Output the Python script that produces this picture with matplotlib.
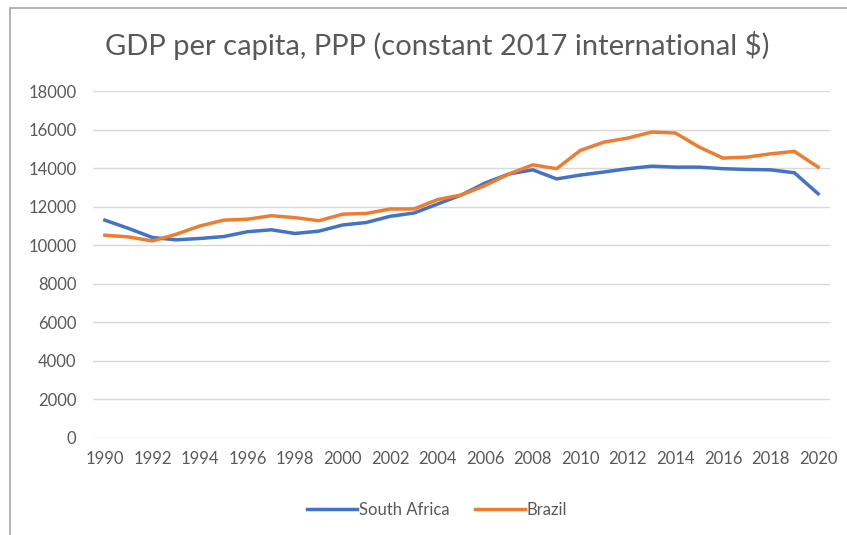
import numpy as np
import matplotlib.pyplot as plt
from matplotlib.patches import Rectangle

years = list(range(1990, 2021))
south_africa = [11300, 10870, 10400, 10280, 10350, 10450, 10700, 10800, 10610, 10730,
                11050, 11180, 11500, 11670, 12140, 12610, 13230, 13700, 13910, 13440,
                13640, 13800, 13970, 14100, 14050, 14050, 13970, 13930, 13910, 13760,
                12670]
brazil = [10520, 10430, 10220, 10570, 11000, 11300, 11350, 11530, 11430, 11270,
          11610, 11650, 11880, 11880, 12370, 12610, 13100, 13700, 14170, 13970,
          14920, 15350, 15560, 15870, 15820, 15090, 14520, 14570, 14740, 14870,
          14050]
year_ticks = list(range(1990, 2021, 2))

plt.rcParams['font.family'] = ['Lato', 'DejaVu Sans']
text_color = '#595959'

fig = plt.figure(figsize=(8.47, 5.35), dpi=100)
ax = fig.add_axes([93 / 847, 1 - 438 / 535, (830 - 93) / 847, (438 - 91) / 535])

# chart frame (cut off on the right and bottom)
fig.patches.append(Rectangle((10 / 847, -0.1), 1.2, 1 - 8 / 535 + 0.1,
                             transform=fig.transFigure, fill=False,
                             edgecolor='#a6a6a6', linewidth=1.2))

ax.plot(years, south_africa, color='#4472C4', linewidth=2.5, label='South Africa')
ax.plot(years, brazil, color='#ED7D31', linewidth=2.5, label='Brazil')

ax.set_xlim(1989.5, 2020.5)
ax.set_ylim(0, 18000)
ax.set_yticks(range(0, 18001, 2000))
ax.set_xticks(year_ticks)
ax.grid(axis='y', color='#d9d9d9', linewidth=1)
ax.set_axisbelow(True)
for s in ax.spines.values():
    s.set_visible(False)
ax.tick_params(length=0, labelsize=12, colors=text_color, pad=9)
ax.tick_params(axis='y', pad=12)

fig.text(437 / 847, 1 - 45 / 535, 'GDP per capita, PPP (constant 2017 international $)',
         ha='center', va='center', fontsize=21, color=text_color)

fig.legend(loc='center', bbox_to_anchor=(437 / 847, 1 - 510 / 535), ncol=2,
           frameon=False, fontsize=12, labelcolor=text_color, handlelength=3.0,
           handletextpad=0.1, columnspacing=1.5)

fig.savefig('out.png', dpi=100)
